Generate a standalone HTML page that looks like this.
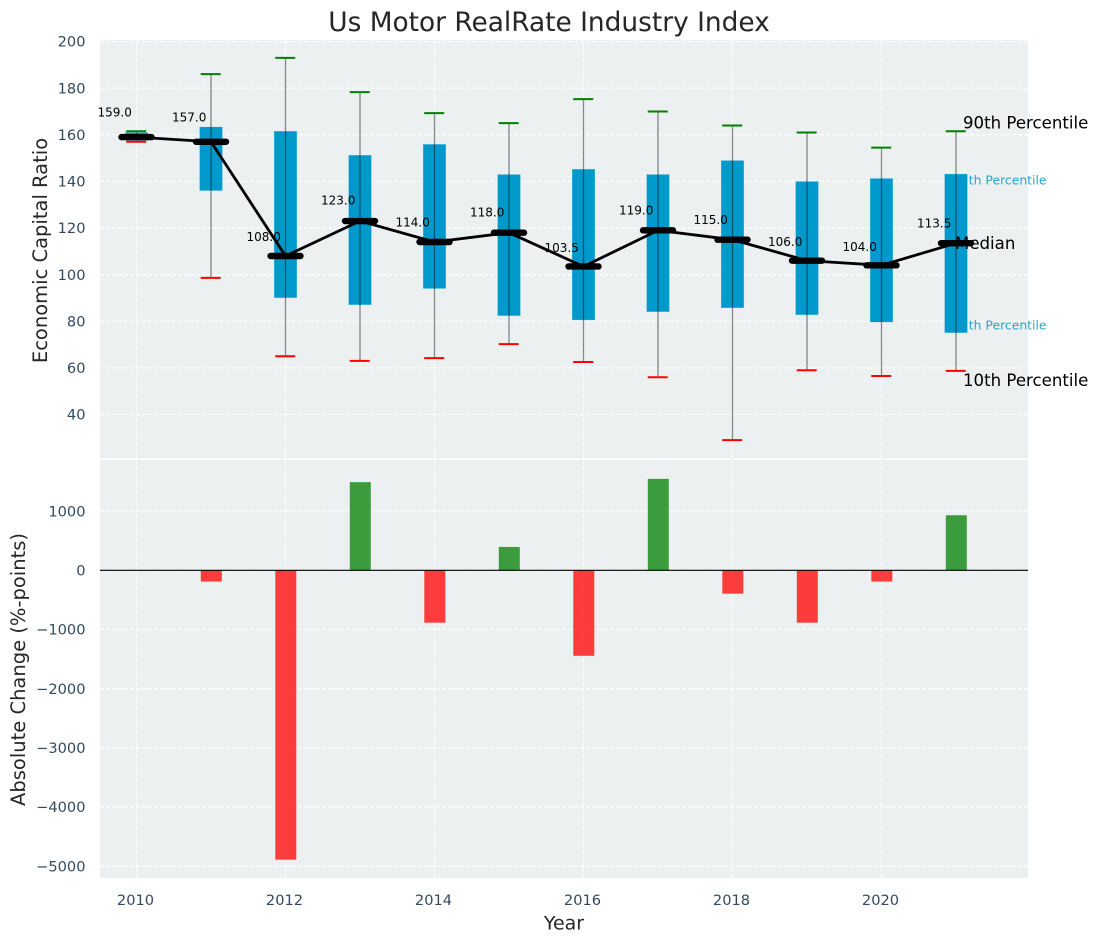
<!DOCTYPE html>
<html lang="en">
<head>
<meta charset="utf-8">
<title>Us Motor RealRate Industry Index</title>
<style>
html,body{margin:0;padding:0;background:#fff;width:1098px;height:942px;overflow:hidden}
svg{display:block;font-family:"DejaVu Sans","Liberation Sans",sans-serif}
</style>
</head>
<body>
<svg id="chart" xmlns="http://www.w3.org/2000/svg" width="1098" height="942" viewBox="0 0 1098 942"></svg>
<script>
const years = [2010,2011,2012,2013,2014,2015,2016,2017,2018,2019,2020,2021];
const p90 = [161.5,186,193,178.3,169.3,165,175.3,170,164,161,154.5,161.5];
const p75 = [161,163.4,161.6,151.3,156,143,145.3,143,149,140,141.3,143.2];
const median = [159,157,108,123,114,118,103.5,119,115,106,104,113.5];
const p25 = [157.5,136,90,87,94,82.3,80.5,84,85.7,82.7,79.6,75];
const p10 = [157,98.6,65,63,64.2,70.2,62.5,56,29,59,56.5,58.7];
const change = [0,-190,-4890,1490,-885,395,-1445,1545,-395,-885,-190,930];
const topTicks = [200,180,160,140,120,100,80,60,40];
const bottomTicks = [1000,0,-1000,-2000,-3000,-4000,-5000];
const yearTicks = [2010,2012,2014,2016,2018,2020];

const NS = 'http://www.w3.org/2000/svg';
const svg = document.getElementById('chart');
const xOf = v => 136.5 + (v - 2010) * 74.5;
const yTop = v => 414.5 - (v - 40) * 2.331;
const yBot = v => 570.3 - v * 0.05917;

function add(tag, attrs, text) {
  const el = document.createElementNS(NS, tag);
  for (const k in attrs) el.setAttribute(k, attrs[k]);
  if (text !== undefined) el.textContent = text;
  svg.appendChild(el);
  return el;
}
let el;

/* panels */
el = add('rect', {x:100,y:40,width:928,height:418.3,fill:'#ecf0f1'});


el = add('rect', {x:100,y:460,width:928,height:418,fill:'#ecf0f1'});



/* grid */
const gridStyle = {stroke:'#ffffff','stroke-width':1.1,'stroke-dasharray':'4.2 1.8'};
yearTicks.forEach(y => {
  el = add('line', Object.assign({x1:xOf(y),x2:xOf(y),y1:40,y2:458.3}, gridStyle));
  
  
  el = add('line', Object.assign({x1:xOf(y),x2:xOf(y),y1:460,y2:878}, gridStyle));
  
  
});
topTicks.forEach(t => {
  el = add('line', Object.assign({x1:100,x2:1028,y1:yTop(t),y2:yTop(t)}, gridStyle));
  
  
  el = add('text', {x:85.5,y:yTop(t)+5.2,'text-anchor':'end','font-size':14.6,fill:'#34495e'}, String(t));
  
  
});
bottomTicks.forEach(t => {
  el = add('line', Object.assign({x1:100,x2:1028,y1:yBot(t),y2:yBot(t)}, gridStyle));
  
  
  el = add('text', {x:85.5,y:yBot(t)+5.2,'text-anchor':'end','font-size':14.6,fill:'#34495e'}, String(t).replace('-', '\u2212'));
  
  
});
yearTicks.forEach(y => {
  el = add('text', {x:xOf(y)-1,y:905,'text-anchor':'middle','font-size':14.6,fill:'#34495e'}, String(y));
  
  
});

/* percentile labels beside final box */
const last = years.length - 1;
el = add('text', {x:953,y:yTop(p75[last])+10.5,'font-size':12.4,fill:'#0099cc','fill-opacity':0.85}, '75th Percentile');


el = add('text', {x:953,y:yTop(p25[last])-3.5,'font-size':12.4,fill:'#0099cc','fill-opacity':0.85}, '25th Percentile');



/* boxes, whiskers and caps */
years.forEach((yr, i) => {
  const cx = xOf(yr);
  el = add('rect', {x:cx-11.5,y:yTop(p75[i]),width:23,height:yTop(p25[i])-yTop(p75[i]),fill:'#0099cc',stroke:'#cfe8f2','stroke-width':0.4});
  
  
  el = add('line', {x1:cx,x2:cx,y1:yTop(p90[i]),y2:yTop(p10[i]),stroke:'#000','stroke-opacity':0.45,'stroke-width':1.3});
  
  
  el = add('line', {x1:cx-10.3,x2:cx+9.7,y1:yTop(p90[i]),y2:yTop(p90[i]),stroke:'#008000','stroke-width':2});
  
  
  el = add('line', {x1:cx-10.3,x2:cx+9.7,y1:yTop(p10[i]),y2:yTop(p10[i]),stroke:'#ff0000','stroke-width':2});
  
  
});

/* median line and markers */
el = add('polyline', {points:years.map((yr, i) => xOf(yr) + ',' + yTop(median[i])).join(' '),fill:'none',stroke:'#000','stroke-width':2.8,'stroke-linejoin':'round'});


years.forEach((yr, i) => {
  const cx = xOf(yr), my = yTop(median[i]);
  el = add('line', {x1:cx-15,x2:cx+15,y1:my,y2:my,stroke:'#000','stroke-width':6.4,'stroke-linecap':'round'});
  
  
  el = add('text', {x:cx-21.8,y:yTop(median[i]*1.05)-2.2,'text-anchor':'middle','font-size':12,fill:'#000'}, median[i].toFixed(1));
  
  
});

/* right annotations */
el = add('text', {x:963,y:yTop(p90[last])-3,'font-size':16.6,fill:'#000'}, '90th Percentile');


el = add('text', {x:955,y:yTop(median[last])+6,'font-size':16.6,fill:'#000'}, 'Median');


el = add('text', {x:963,y:yTop(p10[last])+15,'font-size':16.6,fill:'#000'}, '10th Percentile');



/* change bars */
years.forEach((yr, i) => {
  const v = change[i];
  if (v === 0) return;
  const cx = xOf(yr), y0 = yBot(0), yv = yBot(v);
  el = add('rect', {x:cx-10.2,y:Math.min(y0,yv),width:21,height:Math.abs(yv-y0),fill:v>0?'#008000':'#ff0000','fill-opacity':0.75});
  
  
});
el = add('line', {x1:100,x2:1028,y1:yBot(0),y2:yBot(0),stroke:'#000','stroke-width':1.2});



/* titles */
el = add('text', {x:549,y:31,'text-anchor':'middle','font-size':26.4,fill:'#262626'}, 'Us Motor RealRate Industry Index');


el = add('text', {x:564,y:929.5,'text-anchor':'middle','font-size':19,fill:'#262626'}, 'Year');


el = add('text', {'text-anchor':'middle','font-size':19.5,fill:'#262626',transform:'translate(47,250.5) rotate(-90)'}, 'Economic Capital Ratio');


el = add('text', {'text-anchor':'middle','font-size':19.5,fill:'#262626',transform:'translate(25,669.5) rotate(-90)'}, 'Absolute Change (%-points)');


</script>
</body>
</html>
